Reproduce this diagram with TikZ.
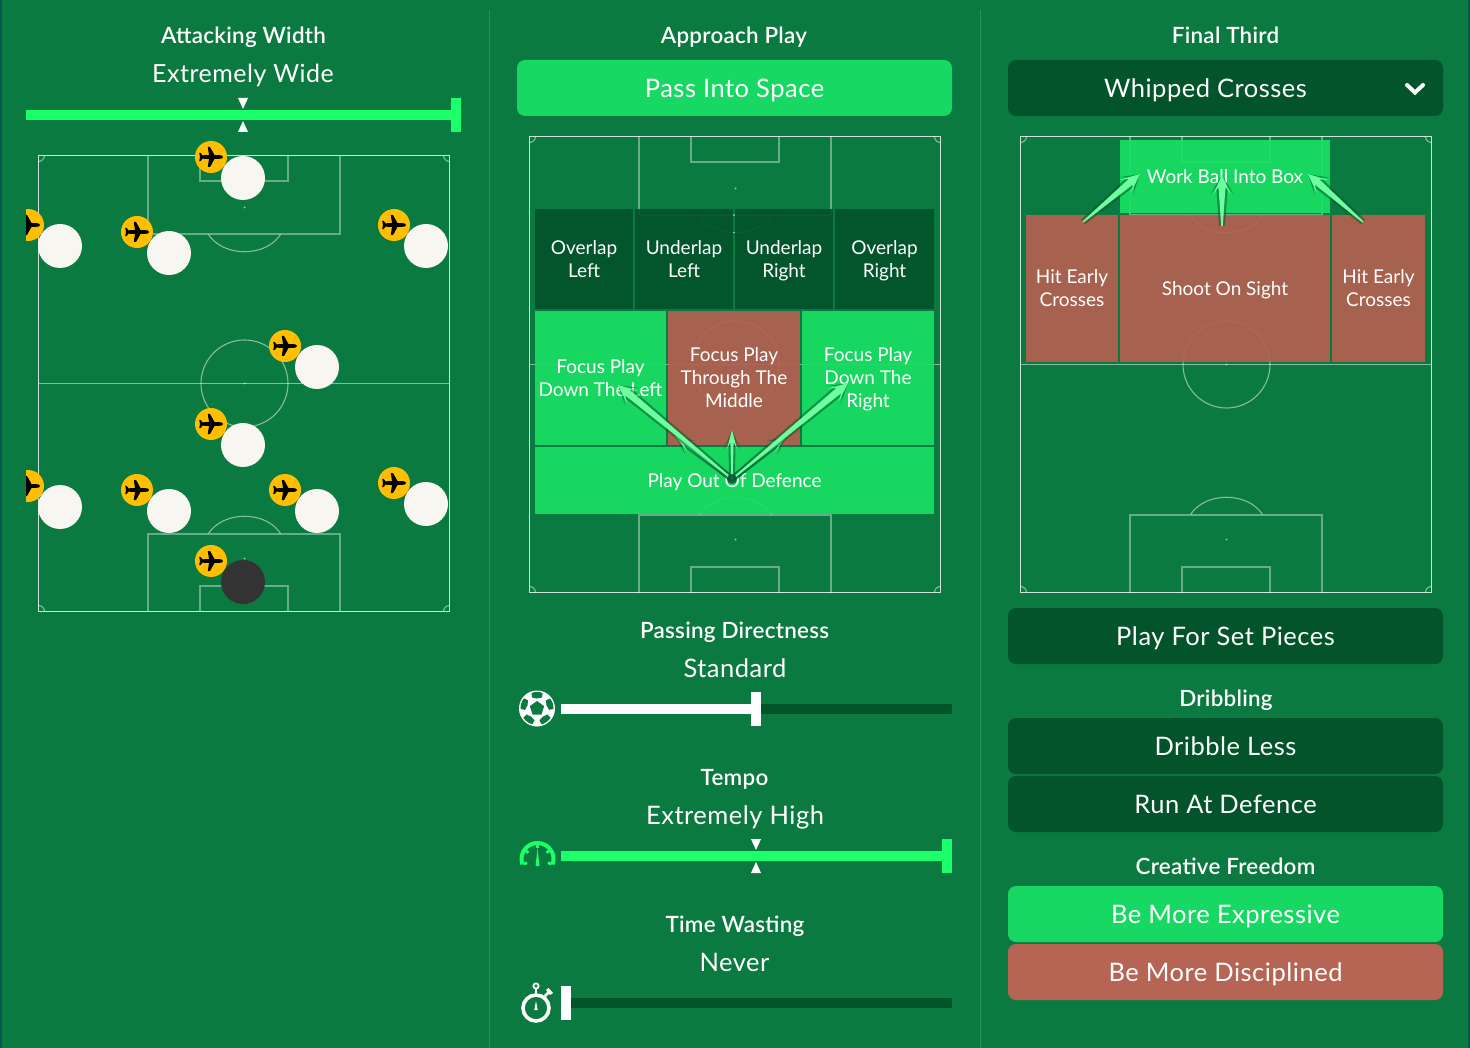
\documentclass[tikz,border=0pt]{standalone}
\usepackage{fontspec}
\setmainfont{Lato}
\newfontfamily\headfont[LetterSpace=1.2]{Lato Semibold}
\newfontfamily\wordfont[LetterSpace=2]{Lato}
\usetikzlibrary{calc}
\definecolor{bgc}{HTML}{0B7A40}
\definecolor{edgec}{HTML}{04594D}
\definecolor{darkc}{HTML}{03532B}
\definecolor{brightc}{HTML}{17D862}
\definecolor{zonebright}{HTML}{18DF64}
\definecolor{neonc}{HTML}{1AFF6A}
\definecolor{zonered}{HTML}{B26151}
\definecolor{btnred}{HTML}{B66454}
\definecolor{goldc}{HTML}{FFBE00}
\definecolor{ivoryc}{HTML}{F7F6F0}
\definecolor{keeperc}{HTML}{333333}
\definecolor{arrowc}{HTML}{6DFF9E}
\definecolor{divc}{HTML}{2F8D5A}
\definecolor{shadowc}{HTML}{03532B}
\newcommand\zstrutA{\rule[-6.4pt]{0pt}{26.4pt}}
\newcommand\zt{\rule{0pt}{20.4pt}}
\newcommand\bstrutA{\rule[-7.6pt]{0pt}{33.6pt}}
\newcommand\hstrutA{\rule[-6pt]{0pt}{28pt}}
\tikzset{
  x=1pt,y=-1pt,
  txt/.style={text=white,inner sep=0pt,align=center},
  heading/.style={txt,font=\headfont\fontsize{22.4}{26}\selectfont,execute at begin node=\hstrutA},
  value/.style={txt,font=\wordfont\fontsize{25.5}{30}\selectfont,execute at begin node=\bstrutA},
  btn/.style={txt,font=\wordfont\fontsize{25.5}{30}\selectfont,rounded corners=8pt,minimum width=435pt,minimum height=56pt,execute at begin node=\bstrutA},
  btndark/.style={btn,fill=darkc},
  btnbright/.style={btn,fill=brightc},
  btnred/.style={btn,fill=btnred},
  zone/.style={txt,font=\fontsize{19}{23}\selectfont,fill opacity=.93,text opacity=1,execute at begin node=\zstrutA,execute at end node=\zstrutA},
  zbright/.style={zone,fill=zonebright},
  zred/.style={zone,fill=zonered},
  zdark/.style={zone,fill=darkc},
  pline/.style={draw=white,draw opacity=.38,line width=2pt},
  pedge/.style={draw=white,draw opacity=.8,line width=1.2pt},
  parc/.style={draw=white,draw opacity=.5,line width=1.1pt},
  token/.style={circle,fill=goldc,minimum size=32pt,inner sep=0pt},
  player/.style={circle,fill=ivoryc,minimum size=44pt,inner sep=0pt},
  keeper/.style={circle,fill=keeperc,minimum size=44pt,inner sep=0pt},
}
\newcommand\pitchlines[2]{%
  \begin{scope}[shift={(#1,#2)}]
    \draw[pline] (109.5,0) -- (109.5,79) -- (301.5,79) -- (301.5,0);
    \draw[pline] (161.5,0) -- (161.5,26) -- (249.5,26) -- (249.5,0);
    \draw[pline] (109.5,456) -- (109.5,378) -- (301.5,378) -- (301.5,456);
    \draw[pline] (161.5,456) -- (161.5,430) -- (249.5,430) -- (249.5,456);
    \draw[parc] (170,79) .. controls (185,102) and (227,102) .. (242,79);
    \draw[parc] (170,378) .. controls (185,355) and (227,355) .. (242,378);
    \draw[parc] (0,228) -- (411,228);
    \draw[parc] (206,228) circle[radius=43.5];
    \fill[white,opacity=.6] (206,52) circle[radius=1];
    \fill[white,opacity=.6] (206,228) circle[radius=1];
    \fill[white,opacity=.6] (206,403) circle[radius=1];
    \draw[parc] (0,6) .. controls (3.3,6) and (6,3.3) .. (6,0);
    \draw[parc] (411,6) .. controls (407.7,6) and (405,3.3) .. (405,0);
    \draw[parc] (0,450) .. controls (3.3,450) and (6,452.7) .. (6,456);
    \draw[parc] (411,450) .. controls (407.7,450) and (405,452.7) .. (405,456);
    \draw[pedge] (0,0) rectangle (411,456);
  \end{scope}}
\newcommand\planeicon[1]{%
  \fill[black,shift={(#1)}] (12,0) -- (10.5,-1.7) -- (3.5,-1.9) -- (-1,-10) -- (-3.2,-10) -- (-2,-1.9)
    -- (-8.5,-1.7) -- (-10.5,-4.2) -- (-11.8,-4.2) -- (-11,0) -- (-11.8,4.2) -- (-10.5,4.2) -- (-8.5,1.7)
    -- (-2,1.9) -- (-3.2,10) -- (-1,10) -- (3.5,1.9) -- (10.5,1.7) -- cycle;}
\newcommand\tokenat[3]{\node[token] (#1) at (#2,#3) {}; \planeicon{#2,#3}}
% a, b, tail half, neck half, wing half
\newcommand\flowshape[5]{%
  ($(#1)!#3!90:(#2)$) -- ($($(#2)!12pt!(#1)$)!#4!90:(#2)$) -- ($($(#2)!19pt!(#1)$)!#5!90:(#2)$) -- (#2)
  -- ($($(#2)!19pt!(#1)$)!#5!-90:(#2)$) -- ($($(#2)!12pt!(#1)$)!#4!-90:(#2)$) -- ($(#1)!#3!-90:(#2)$) -- cycle}
\newcommand\flow[2]{%
  \fill[shadowc,opacity=.5] \flowshape{#1}{#2}{3pt}{5.8pt}{11.5pt};
  \fill[arrowc] \flowshape{#1}{#2}{.8pt}{3.5pt}{8.5pt};}
\newcommand\flowsmall[2]{%
  \fill[shadowc,opacity=.5] \flowshape{#1}{#2}{3pt}{3.5pt}{8.5pt};
  \fill[arrowc] \flowshape{#1}{#2}{.6pt}{1.6pt}{5pt};}
\newcommand\triangles[3]{%
  \fill[white] (#1-5,#2) -- (#1+5,#2) -- (#1,#2+11) -- cycle;
  \fill[white] (#1-5,#3) -- (#1+5,#3) -- (#1,#3-11) -- cycle;}
\begin{document}
\begin{tikzpicture}
\useasboundingbox (0,0) rectangle (1470,1048);
\fill[bgc] (0,0) rectangle (1470,1048);
\fill[edgec] (0,0) rectangle (2,1048);
\fill[edgec] (1468,0) rectangle (1470,1048);
\draw[divc,line width=1.5pt] (489.5,10) -- (489.5,1048);
\draw[divc,line width=1.5pt] (980.5,10) -- (980.5,1048);

% ---- left column
\node[heading] (h1) at (243.5,36) {Attacking Width};
\node[value,font=\wordfont\fontsize{25}{30}\selectfont] (v1) at (243,73.5) {Extremely Wide};
\fill[neonc] (26,110) rectangle (452,120);
\fill[neonc] (451,98) rectangle (461,132);
\triangles{243}{98}{132}
\pitchlines{38.5}{155.5}
\begin{scope}
  \clip (26,130) rectangle (470,620);
  \tokenat{t1}{28}{225}
  \tokenat{t2}{28}{486}
\end{scope}
\tokenat{t3}{211}{157}
\tokenat{t4}{137}{232}
\tokenat{t5}{394}{225}
\tokenat{t6}{285}{346}
\tokenat{t7}{211}{424}
\tokenat{t8}{137}{490}
\tokenat{t9}{285}{490}
\tokenat{t10}{394}{483}
\tokenat{t11}{211}{561}
\node[player] (p1) at (60,246) {};
\node[player] (p2) at (169,253) {};
\node[player] (p3) at (243,178) {};
\node[player] (p4) at (426,246) {};
\node[player] (p5) at (317,367) {};
\node[player] (p6) at (243,445) {};
\node[player] (p7) at (60,507) {};
\node[player] (p8) at (169,511) {};
\node[player] (p9) at (317,511) {};
\node[player] (p10) at (426,504) {};
\node[keeper] (gk) at (243,582) {};

% ---- middle column
\node[heading] (h2) at (734,36) {Approach Play};
\node[btnbright] (b1) at (734.5,88) {Pass Into Space};
\pitchlines{529.5}{136.5}
\node[zdark,minimum width=98pt,minimum height=100pt] (z1) at (584,259) {\zt Overlap\\Left};
\node[zdark,minimum width=98pt,minimum height=100pt] (z2) at (684,259) {\zt Underlap\\Left};
\node[zdark,minimum width=98pt,minimum height=100pt] (z3) at (784,259) {\zt Underlap\\Right};
\node[zdark,minimum width=99pt,minimum height=100pt] (z4) at (884.5,259) {\zt Overlap\\Right};
\node[zbright,minimum width=131pt,minimum height=134pt] (z5) at (600.5,378) {\zt Focus Play\\Down The Left};
\node[zred,minimum width=132pt,minimum height=134pt] (z6) at (734,378) {\zt Focus Play\\Through The\\Middle};
\node[zbright,minimum width=132pt,minimum height=134pt] (z7) at (868,378) {\zt Focus Play\\Down The\\Right};
\node[zbright,minimum width=399pt,minimum height=67pt] (z8) at (734.5,480.5) {Play Out Of Defence};
\coordinate (oa) at (732,479);
\coordinate (oe1) at (618,385);
\coordinate (oe2) at (848,383);
\coordinate (oe3) at (732,430);
\coordinate (oe4) at (675,436);
\coordinate (oe5) at (787,436);
\flowsmall{oa}{oe4}
\flowsmall{oa}{oe5}
\flow{oa}{oe1}
\flow{oa}{oe2}
\flowsmall{oa}{oe3}
\fill[shadowc,opacity=.8] (oa) circle[radius=5];

\node[heading] (h3) at (734.5,630) {Passing Directness};
\node[value] (v3) at (735,668) {Standard};
\fill[darkc] (561,704) rectangle (952,714);
\fill[white] (561,704) rectangle (752,714);
\fill[white] (751,692) rectangle (761,726);
% ball
\fill[white] (537,708.5) circle[radius=18];
\begin{scope}[shift={(537,708.5)}]
  \fill[bgc] (-90:7.5) -- (-162:7.5) -- (-234:7.5) -- (-306:7.5) -- (-18:7.5) -- cycle;
  \foreach \a in {90,162,234,306,18}{
    \fill[bgc,rotate=\a] (11,-5) -- (15.5,-5.5) arc[start angle=-21,end angle=21,radius=15.5] -- (11,5) -- (10,0) -- cycle;
  }
\end{scope}

\node[heading] (h4) at (734.5,777) {Tempo};
\node[value] (v4) at (735,815) {Extremely High};
\fill[neonc] (561,851) rectangle (943,861);
\fill[neonc] (942,839) rectangle (952,873);
\triangles{756}{839}{873}
% gauge
\begin{scope}[shift={(537.5,859)}]
  \draw[neonc,line width=4pt] (160:16) arc[start angle=160,end angle=380,radius=16];
  \foreach \a in {160,215,270,325,20}{\draw[neonc,line width=2.8pt] (\a:11) -- (\a:15);}
  \fill[neonc] (0,-11) -- (2,7) -- (-2,7) -- cycle;
\end{scope}

\node[heading] (h5) at (735,924) {Time Wasting};
\node[value] (v5) at (734.5,962) {Never};
\fill[darkc] (561,998) rectangle (952,1008);
\fill[white] (561,986) rectangle (571,1020);
% stopwatch
\begin{scope}[shift={(536,1008)}]
  \draw[white,line width=3.6pt] (0,0) circle[radius=13];
  \draw[white,line width=2pt] (0,-15) -- (0,-19);
  \draw[white,line width=1.8pt] (0,-22) circle[radius=2.6];
  \draw[white,line width=2.6pt] (9,-12) -- (14,-17);
  \fill[white] (12.5,-20) -- (17,-15) -- (14,-13) -- (10,-18) -- cycle;
  \fill[white] (0,-7) -- (1.7,2) -- (-1.7,2) -- cycle;
\end{scope}

% ---- right column
\node[heading] (h6) at (1225.5,36) {Final Third};
\node[btndark] (b2) at (1225.5,88) {Whipped Crosses\hspace{40pt}};
\coordinate (c1) at (1407,85);
\coordinate (c2) at (1415,92.5);
\coordinate (c3) at (1423,85);
\draw[white,line width=4pt,line cap=round,line join=miter] (c1) -- (c2) -- (c3);
\pitchlines{1020.5}{136.5}
\node[zbright,minimum width=210pt,minimum height=73pt] (r1) at (1225,176.5) {Work Ball Into Box};
\node[zred,minimum width=92pt,minimum height=147pt] (r2) at (1072,288.5) {\zt Hit Early\\Crosses};
\node[zred,minimum width=210pt,minimum height=147pt] (r3) at (1225,288.5) {Shoot On Sight};
\node[zred,minimum width=93pt,minimum height=147pt] (r4) at (1378.5,288.5) {\zt Hit Early\\Crosses};
\coordinate (ra1) at (1083,222);
\coordinate (re1) at (1140,174);
\coordinate (ra2) at (1222,226);
\coordinate (re2) at (1222,175);
\coordinate (ra3) at (1363,222);
\coordinate (re3) at (1308,174);
\flow{ra1}{re1}
\flow{ra2}{re2}
\flow{ra3}{re3}

\node[btndark] (b3) at (1225.5,636) {Play For Set Pieces};
\node[heading] (h7) at (1226,698) {Dribbling};
\node[btndark] (b4) at (1225.5,746) {Dribble Less};
\node[btndark] (b5) at (1225.5,804) {Run At Defence};
\node[heading] (h8) at (1225.5,866) {Creative Freedom};
\node[btnbright] (b6) at (1225.5,914) {Be More Expressive};
\node[btnred] (b7) at (1225.5,972) {Be More Disciplined};
\end{tikzpicture}
\end{document}
